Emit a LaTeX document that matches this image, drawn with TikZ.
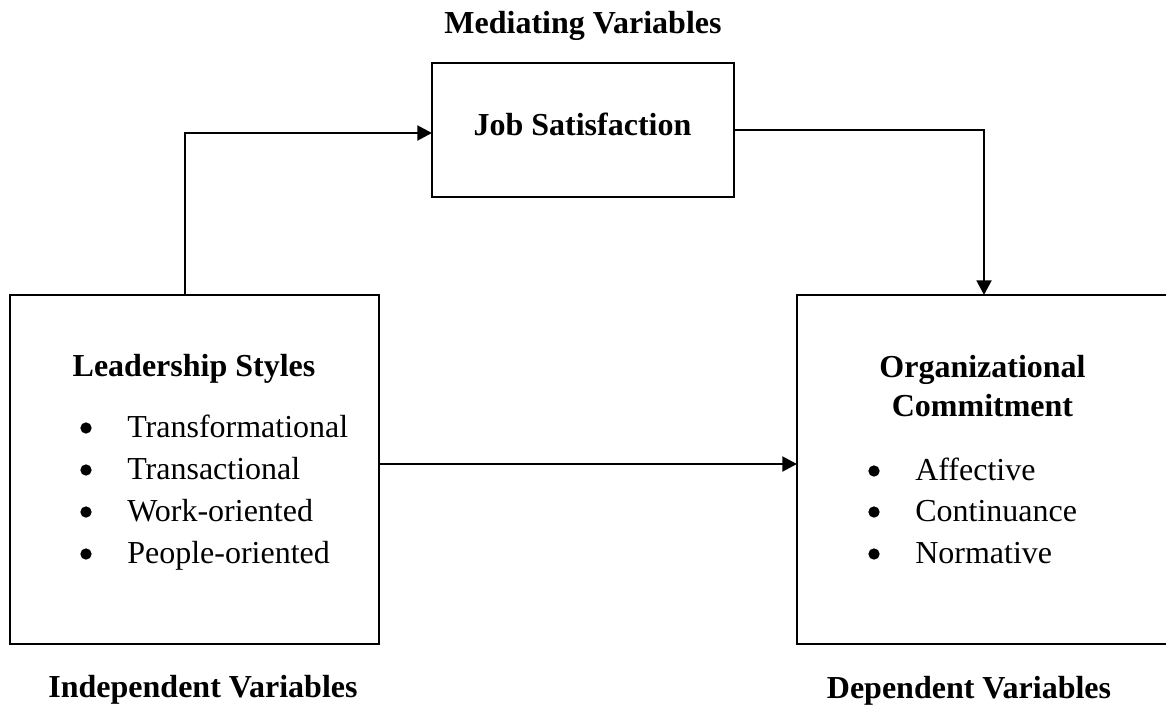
\documentclass[tikz,border=0pt]{standalone}
\usepackage{fontspec}
\setmainfont{Liberation Serif}
\usetikzlibrary{arrows.meta}
\tikzset{
  box/.style={draw, line width=2.2pt, inner sep=0pt, outer sep=0pt, rectangle},
  conn/.style={line width=2.2pt},
  arr/.style={conn, -{Triangle[length=11pt,width=11pt]}},
  bold/.style={font=\fontsize{24}{28}\selectfont\bfseries, anchor=base, inner sep=0pt},
  item/.style={font=\fontsize{24}{28}\selectfont, anchor=base west, inner sep=0pt},
  bul/.style={circle, fill=black, inner sep=0pt, minimum size=8.5pt}
}
\begin{document}
\begin{tikzpicture}[x=0.75pt, y=-0.75pt]
\useasboundingbox (0,0) rectangle (1166,708);
% boxes
\node[box, minimum width=276.75pt, minimum height=261.75pt] (lbox) at (194.5,469.5) {};
\node[box, minimum width=226.5pt, minimum height=100.5pt] (job) at (583,130) {};
\node[box, minimum width=281.25pt, minimum height=261.75pt] (rbox) at (984.5,469.5) {};
% titles
\node[bold] (med) at (583,33) {Mediating Variables};
\node[bold] (jobt) at (582.5,135) {Job Satisfaction};
\node[bold] (lst) at (194,376) {Leadership Styles};
\node[bold] (oc1) at (982.5,377) {Organizational};
\node[bold] (oc2) at (982.5,416) {Commitment};
\node[bold] (ind) at (203,697) {Independent Variables};
\node[bold] (dep) at (969,698) {Dependent Variables};
% left items
\node[bul] (lb1) at (86,428) {};
\node[bul] (lb2) at (86,470) {};
\node[bul] (lb3) at (86,512) {};
\node[bul] (lb4) at (86,554) {};
\node[item] (li1) at (127,437) {Transformational};
\node[item] (li2) at (127,479) {Transactional};
\node[item] (li3) at (127,521) {Work-oriented};
\node[item] (li4) at (127,563) {People-oriented};
% right items
\node[bul] (rb1) at (874,471) {};
\node[bul] (rb2) at (874,512) {};
\node[bul] (rb3) at (874,554) {};
\node[item] (ri1) at (915,480) {Affective};
\node[item] (ri2) at (915,521) {Continuance};
\node[item] (ri3) at (915,563) {Normative};
% connectors
\coordinate (tapL) at (185,133);
\coordinate (tapR) at (984,130);
\coordinate (mid) at (588,464);
\draw[arr, line join=miter] (tapL |- lbox.north) -- (tapL) -- (tapL -| job.west);
\draw[arr, line join=miter] (job.east |- tapR) -- (tapR) -- (tapR |- rbox.north);
\draw[arr] (lbox.east |- mid) -- (mid -| rbox.west);
\end{tikzpicture}
\end{document}
